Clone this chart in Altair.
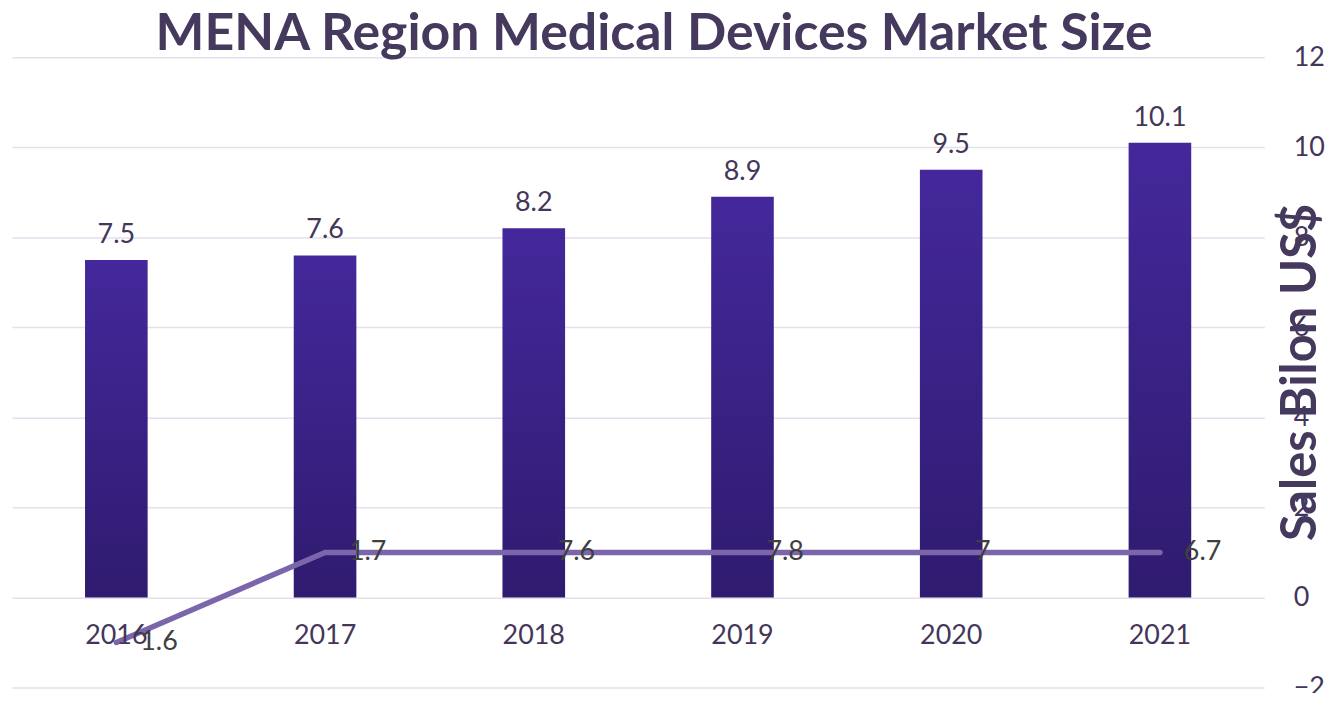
import altair as alt
import pandas as pd

years = ["2016", "2017", "2018", "2019", "2020", "2021"]
sales = [7.5, 7.6, 8.2, 8.9, 9.5, 10.1]
line_vals = [-1.0, 1.0, 1.0, 1.0, 1.0, 1.0]
line_labels = ["1.6", "1.7", "7.6", "7.8", "7", "6.7"]
y_ticks = [-2, 0, 2, 4, 6, 8, 10, 12]

df = pd.DataFrame({"year": years, "sales": sales, "line": line_vals, "lab": line_labels})

FONT = "Lato"
TXT = "#433659"

x = alt.X("year:N", sort=years, axis=None,
          scale=alt.Scale(paddingInner=0.7, paddingOuter=0.35))
yscale = alt.Scale(domain=[-2, 12], nice=False)

base = alt.Chart(df)

bars = base.mark_bar(
    color=alt.Gradient(
        gradient="linear",
        stops=[alt.GradientStop(color="#44289b", offset=0),
               alt.GradientStop(color="#2f1b6f", offset=1)],
        x1=0, x2=0, y1=0, y2=1,
    )
).encode(
    x=x,
    y=alt.Y("sales:Q", scale=yscale,
            axis=alt.Axis(orient="right", values=y_ticks, grid=True, gridColor="#e3dfec",
                          gridWidth=1.5, domain=False, ticks=False, labelFont=FONT,
                          labelFontSize=27, labelColor=TXT, labelAlign="left",
                          labelPadding=29, title="Sales Bilon US$", titleFont=FONT,
                          titleFontSize=49, titleFontWeight="bold", titleColor="#46395e",
                          titleAngle=270, titleX=36, titleY=316, titleAlign="center",
                          titleBaseline="middle")),
)

bar_text = base.mark_text(font=FONT, fontSize=27, color=TXT, baseline="alphabetic", dy=-17).encode(
    x=x, y=alt.Y("sales:Q", scale=yscale), text=alt.Text("sales:Q", format=".1f")
)

line = base.mark_line(color="#7b65ab", strokeWidth=5.5, strokeCap="round", strokeJoin="round").encode(
    x=x, y=alt.Y("line:Q", scale=yscale)
)

line_text = base.mark_text(font=FONT, fontSize=27, color="#404040", align="left",
                           baseline="middle", dx=24).encode(
    x=x, y=alt.Y("line:Q", scale=yscale), text="lab:N"
)

year_text = base.mark_text(font=FONT, fontSize=27, color=TXT, baseline="middle", dy=39).encode(
    x=x, y=alt.datum(0, scale=yscale), text="year:N"
)

chart = alt.layer(bars, bar_text, line, line_text, year_text).properties(
    width=1258, height=633,
    title=alt.TitleParams("MENA Region Medical Devices Market Size", font=FONT, fontSize=52,
                          fontWeight="bold", color="#46395e", anchor="middle", dx=16,
                          baseline="alphabetic", offset=-59),
    padding={"left": 4, "top": 48, "right": 62, "bottom": 4},
    autosize="none",
).configure_view(stroke=None)

chart.save("out.html", embed_options={"renderer": "svg", "actions": False})
